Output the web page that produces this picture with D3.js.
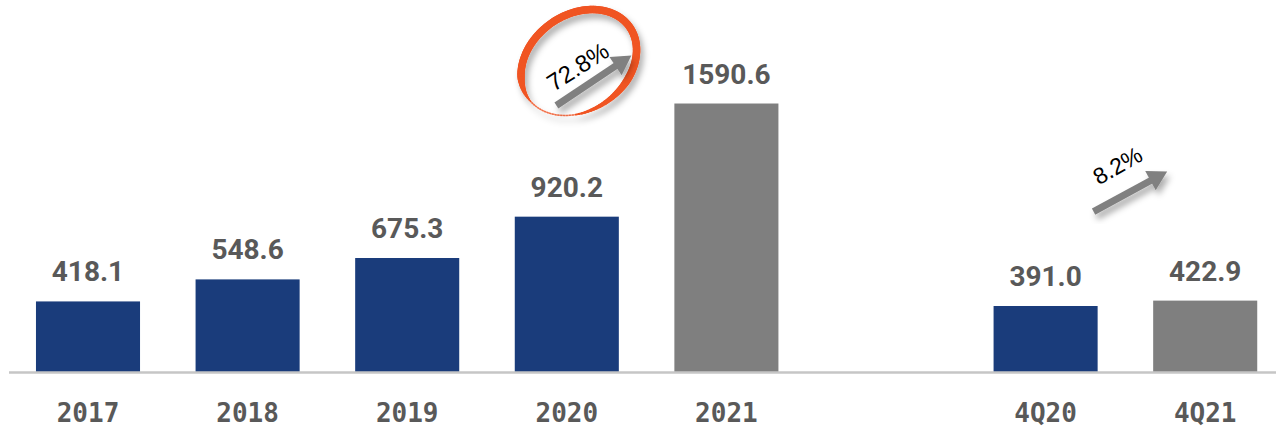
<!DOCTYPE html>
<html>
<head>
<meta charset="utf-8">
<script src="https://cdn.jsdelivr.net/npm/d3@7"></script>
<style>
  html, body { margin: 0; padding: 0; background: #fff; }
  svg { display: block; }
</style>
</head>
<body>
<svg id="chart" width="1276" height="429"></svg>
<script>
// Annual and fourth-quarter totals
const years = ["2017", "2018", "2019", "2020", "2021"];
const yearValues = [418.1, 548.6, 675.3, 920.2, 1590.6];
const quarters = ["4Q20", "4Q21"];
const quarterValues = [391.0, 422.9];
// Latest period in each group is shown in grey
const latest = ["2021", "4Q21"];
// Growth callouts: year over year, quarter over quarter
const growthLabels = ["72.8%", "8.2%"];

const W = 1276, H = 429;
const svg = d3.select("#chart");

const GAP = "gap";
const slots = [...years, GAP, ...quarters];
const data = years.map((c, i) => ({ cat: c, value: yearValues[i] }))
  .concat(quarters.map((c, i) => ({ cat: c, value: quarterValues[i] })));

const baseY = 372;
const x = d3.scaleBand().domain(slots).range([8.2, 1285]).paddingInner(0.348).paddingOuter(0.174);
const y = d3.scaleLinear().domain([0, 2000]).range([baseY, baseY - 337.6]);
const bw = x.bandwidth();

// Shadow filter for the hand-drawn callouts
const defs = svg.append("defs");
const f = defs.append("filter").attr("id", "shadow")
  .attr("x", "-30%").attr("y", "-30%").attr("width", "160%").attr("height", "160%");
f.append("feDropShadow").attr("dx", 3).attr("dy", 5).attr("stdDeviation", 3)
  .attr("flood-color", "#000").attr("flood-opacity", 0.32);

// Bars
svg.append("g").selectAll("rect").data(data).join("rect")
  .attr("x", d => x(d.cat))
  .attr("y", d => y(d.value))
  .attr("width", bw)
  .attr("height", d => y(0) - y(d.value))
  .attr("fill", d => latest.includes(d.cat) ? "#7f7f7f" : "#1a3c7b");

// Baseline
svg.append("line")
  .attr("x1", 9).attr("x2", W)
  .attr("y1", baseY + 0.5).attr("y2", baseY + 0.5)
  .attr("stroke", "#c6c6c6").attr("stroke-width", 2.5);

// Value labels
svg.append("g").selectAll("text").data(data).join("text")
  .attr("x", d => x(d.cat) + bw / 2)
  .attr("y", d => y(d.value) - 20)
  .attr("text-anchor", "middle")
  .attr("font-family", "Roboto, sans-serif")
  .attr("font-weight", 700)
  .attr("font-size", 28)
  .attr("fill", "#595959")
  .text(d => d.value.toFixed(1));

// Category axis
const axis = d3.axisBottom(x).tickValues(slots.filter(s => s !== GAP)).tickSize(0).tickPadding(0);
const gx = svg.append("g").attr("transform", `translate(0,${baseY})`).call(axis);
gx.select(".domain").remove();
gx.selectAll("text")
  .attr("y", 50)
  .attr("dy", 0)
  .attr("font-family", "'DejaVu Sans Mono', monospace")
  .attr("font-weight", 700)
  .attr("font-size", 26)
  .attr("fill", "#595959");

// Arrow helper: thick shaft with a triangular head
function arrow(g, x0, y0, x1, y1) {
  const a = Math.atan2(y1 - y0, x1 - x0);
  const hl = 19, hw = 11;
  const bx = x1 - hl * Math.cos(a), by = y1 - hl * Math.sin(a);
  const nx = -Math.sin(a), ny = Math.cos(a);
  const grp = g.append("g").attr("filter", "url(#shadow)");
  grp.append("line")
    .attr("x1", x0).attr("y1", y0).attr("x2", bx + 2 * Math.cos(a)).attr("y2", by + 2 * Math.sin(a))
    .attr("stroke", "#808080").attr("stroke-width", 7);
  grp.append("path")
    .attr("d", d3.line()([[x1, y1], [bx + nx * hw, by + ny * hw], [bx - nx * hw, by - ny * hw]]) + "Z")
    .attr("fill", "#808080");
  return a * 180 / Math.PI;
}

const ann = svg.append("g");

// Hand-drawn ring around the annual growth
const cx = x("2020") + bw / 2 + 12, cy = y(1590.6) - 41;
const rx = 62, ry = 48, rot = -35 * Math.PI / 180;
const ringPt = phi => {
  const p = phi * Math.PI / 180;
  const lx = rx * Math.cos(p), ly = ry * Math.sin(p);
  return [cx + lx * Math.cos(rot) - ly * Math.sin(rot), cy + lx * Math.sin(rot) + ly * Math.cos(rot)];
};
const widthAt = phi => {
  if (phi < 205) return 1.5 + (phi - 175) / 30 * 6;
  if (phi < 420) return 7.5;
  if (phi < 480) return 7.5 - (phi - 420) / 60 * 6;
  return 1.5;
};
const segs = d3.range(175, 535, 3).map(p => ({ p0: p, p1: p + 3.5 }));
const ring = ann.append("g").attr("filter", "url(#shadow)");
ring.selectAll("line").data(segs).join("line")
  .attr("x1", d => ringPt(d.p0)[0]).attr("y1", d => ringPt(d.p0)[1])
  .attr("x2", d => ringPt(d.p1)[0]).attr("y2", d => ringPt(d.p1)[1])
  .attr("stroke", "#f05423")
  .attr("stroke-opacity", d => d.p0 > 480 ? 0.6 : 1)
  .attr("stroke-linecap", "round")
  .attr("stroke-width", d => widthAt(d.p0));

// Annual growth arrow and label
const a1 = arrow(ann, x("2020") + bw * 0.4, y(1590.6) + 2, x("2021") - 43, y(1590.6) - 48);
ann.append("text")
  .attr("transform", `translate(${x("2020") + bw / 2 + 11},${y(1590.6) - 37}) rotate(${a1 + 1})`)
  .attr("text-anchor", "middle").attr("dy", "0.35em")
  .attr("font-family", "'Liberation Sans', Arial, sans-serif")
  .attr("font-size", 24).attr("fill", "#000")
  .text(growthLabels[0]);

// Quarterly growth arrow and label
const a2 = arrow(ann, x("4Q20") + 100, y(422.9) - 89, x("4Q21") + 14, y(422.9) - 129);
ann.append("text")
  .attr("transform", `translate(${x("4Q20") + 124},${y(422.9) - 135}) rotate(${a2 - 1})`)
  .attr("text-anchor", "middle").attr("dy", "0.35em")
  .attr("font-family", "'Liberation Sans', Arial, sans-serif")
  .attr("font-size", 23).attr("fill", "#000")
  .text(growthLabels[1]);
</script>
</body>
</html>
